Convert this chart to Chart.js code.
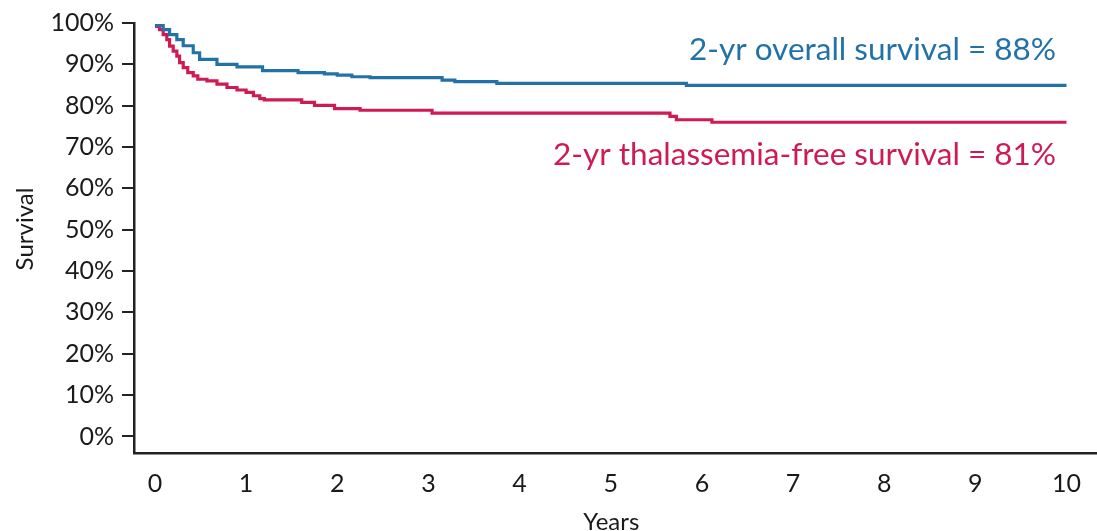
<!DOCTYPE html>
<html>
<head>
<meta charset="utf-8">
<script src="https://cdn.jsdelivr.net/npm/chart.js@4"></script>
<style>
  html, body { margin: 0; padding: 0; background: #fff; }
  #wrap { width: 1097px; height: 531px; position: relative; }
</style>
</head>
<body>
<div id="wrap"><canvas id="kmChart"></canvas></div>
<script>
// Kaplan-Meier curves, values (years, % surviving)
const osYears = [0, 0.09, 0.16, 0.24, 0.31, 0.42, 0.49, 0.68, 0.90, 1.18, 1.57, 1.86, 2.00, 2.16, 2.36, 3.15, 3.29, 3.75, 5.83, 10.0];
const osSurv  = [99.4, 98.4, 97.2, 96.0, 94.5, 92.8, 91.2, 90.0, 89.4, 88.5, 88.0, 87.7, 87.4, 87.0, 86.8, 86.2, 85.8, 85.4, 84.9, 84.9];

const tfsYears = [0, 0.05, 0.09, 0.13, 0.16, 0.20, 0.24, 0.27, 0.31, 0.36, 0.42, 0.47, 0.57, 0.68, 0.79, 0.90, 1.00, 1.08, 1.15, 1.20, 1.61, 1.75, 1.97, 2.25, 3.04, 5.65, 5.72, 6.11, 10.0];
const tfsSurv  = [99.2, 98.4, 97.2, 96.0, 94.4, 93.2, 92.0, 90.4, 89.2, 88.0, 87.2, 86.4, 86.0, 85.2, 84.4, 83.8, 83.2, 82.4, 81.7, 81.4, 80.8, 80.1, 79.3, 78.9, 78.2, 77.4, 76.6, 76.0, 76.0];

const xTicks = [0, 1, 2, 3, 4, 5, 6, 7, 8, 9, 10];
const yTicks = [0, 10, 20, 30, 40, 50, 60, 70, 80, 90, 100];

const osLabel = "2-yr overall survival = 88%";
const tfsLabel = "2-yr thalassemia-free survival = 81%";

const BLUE = "#2372a7";
const RED = "#cf1b53";
const INK = "#1a1a1a";
const FONT = "Lato, 'Open Sans', sans-serif";

const toPoints = (xs, ys) => xs.map((x, i) => ({ x, y: ys[i] }));

// titles + curve annotations
const textPlugin = {
  id: "kmText",
  afterDraw(chart) {
    const { ctx, scales } = chart;
    ctx.save();
    ctx.textBaseline = "alphabetic";
    ctx.font = "31.5px " + FONT;
    ctx.textAlign = "right";
    ctx.fillStyle = BLUE;
    ctx.fillText(osLabel, 1056, 60);
    ctx.fillStyle = RED;
    ctx.fillText(tfsLabel, 1056, 165);

    ctx.fillStyle = INK;
    ctx.font = "24px " + FONT;
    ctx.textAlign = "center";
    ctx.fillText("Years", (scales.x.left + scales.x.right) / 2 - 4, 530);

    ctx.translate(33, 229);
    ctx.rotate(-Math.PI / 2);
    ctx.fillText("Survival", 0, 0);
    ctx.restore();
  }
};

new Chart(document.getElementById("kmChart").getContext("2d"), {
  type: "line",
  data: {
    datasets: [
      {
        label: "Overall survival",
        data: toPoints(osYears, osSurv),
        borderColor: BLUE,
        borderWidth: 3.2,
        stepped: true,
        pointRadius: 0,
        fill: false,
        clip: 4
      },
      {
        label: "Thalassemia-free survival",
        data: toPoints(tfsYears, tfsSurv),
        borderColor: RED,
        borderWidth: 3.2,
        stepped: true,
        pointRadius: 0,
        fill: false,
        clip: 4
      }
    ]
  },
  options: {
    responsive: true,
    maintainAspectRatio: false,
    animation: false,
    layout: { padding: { top: 20, right: 0, left: 0, bottom: 0 } },
    plugins: { legend: { display: false }, tooltip: { enabled: false } },
    scales: {
      x: {
        type: "linear",
        min: -0.23,
        max: 10.33,
        afterBuildTicks: (s) => { s.ticks = xTicks.map(v => ({ value: v })); },
        afterFit: (s) => { s.height = 78; },
        grid: { drawOnChartArea: false, drawTicks: false },
        border: { display: true, color: "#222", width: 2.5 },
        ticks: { color: INK, font: { family: FONT, size: 25 }, padding: 16, maxRotation: 0 }
      },
      y: {
        min: -4,
        max: 100,
        afterBuildTicks: (s) => { s.ticks = yTicks.map(v => ({ value: v })); },
        afterFit: (s) => { s.width = 134; },
        grid: { drawOnChartArea: false, drawTicks: true, tickLength: 12, color: "#222", lineWidth: 2 },
        border: { display: true, color: "#222", width: 2.5 },
        ticks: { color: INK, font: { family: FONT, size: 25 }, padding: 8, callback: (v) => v + "%" }
      }
    }
  },
  plugins: [textPlugin]
});
</script>
</body>
</html>
